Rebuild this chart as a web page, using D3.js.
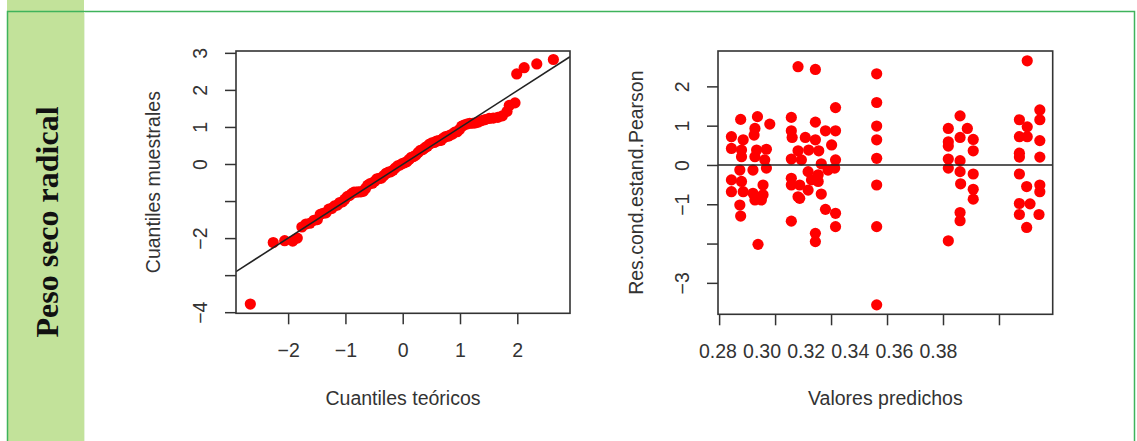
<!DOCTYPE html>
<html>
<head>
<meta charset="utf-8">
<script src="https://cdn.jsdelivr.net/npm/d3@7"></script>
<style>
	body { margin: 0; background: #fff; }
	.lbl { font-family: 'Liberation Sans', Arial, sans-serif; font-size: 19.5px; fill: #333; }
	.axis path.domain { display: none; }
	.axis line { stroke: #333; stroke-width: 1.5; }
</style>
</head>
<body>
<div id="vis"></div>
<script>
// QQ plot: theoretical vs sample quantiles
var qqTheo = [-2.66, -2.26, -2.06, -1.92, -1.84, -1.76, -1.69, -1.62, -1.55, -1.49,
	-1.44, -1.39, -1.34, -1.29, -1.24, -1.19, -1.14, -1.10, -1.05, -1.01,
	-0.97, -0.93, -0.89, -0.85, -0.81, -0.77, -0.73, -0.69, -0.65, -0.61,
	-0.57, -0.53, -0.49, -0.45, -0.41, -0.37, -0.33, -0.29, -0.25, -0.21,
	-0.17, -0.13, -0.09, -0.05, -0.01, 0.03, 0.07, 0.11, 0.15, 0.19,
	0.23, 0.27, 0.31, 0.35, 0.39, 0.43, 0.47, 0.51, 0.55, 0.59,
	0.63, 0.67, 0.71, 0.75, 0.79, 0.83, 0.87, 0.91, 0.95, 0.99,
	1.03, 1.07, 1.12, 1.17, 1.22, 1.27, 1.32, 1.38, 1.44, 1.51,
	1.58, 1.66, 1.74, 1.82, 1.86, 1.96, 1.99, 2.12, 2.34, 2.63];
var qqSample = [-3.78, -2.12, -2.07, -2.08, -2.00, -1.70, -1.62, -1.60, -1.52, -1.50,
	-1.36, -1.33, -1.32, -1.22, -1.20, -1.13, -1.11, -1.04, -1.02, -0.95,
	-0.88, -0.85, -0.80, -0.76, -0.76, -0.75, -0.75, -0.74, -0.66, -0.57,
	-0.53, -0.52, -0.47, -0.40, -0.39, -0.38, -0.31, -0.25, -0.22, -0.21,
	-0.17, -0.11, -0.05, -0.03, 0.01, 0.03, 0.06, 0.12, 0.18, 0.20,
	0.24, 0.31, 0.37, 0.39, 0.44, 0.48, 0.54, 0.57, 0.58, 0.62,
	0.63, 0.64, 0.70, 0.74, 0.75, 0.78, 0.81, 0.86, 0.87, 0.93,
	1.02, 1.05, 1.08, 1.10, 1.10, 1.11, 1.13, 1.17, 1.20, 1.23,
	1.24, 1.26, 1.30, 1.42, 1.58, 1.65, 2.43, 2.60, 2.70, 2.82];
var qqLine = { intercept: -0.01, slope: 0.995 };
var qqXTicks = [-2, -1, 0, 1, 2];
var qqYTicks = [3, 2, 1, 0, -1, -2, -3, -4];
var qqYLabels = ['3', '2', '1', '0', '', '\u22122', '', '\u22124'];

// residuals vs fitted
var fitted = [
	0.2877, 0.2937, 0.2981, 0.2928, 0.2844, 0.2886, 0.2925, 0.2844, 0.2880, 0.2934,
	0.2969, 0.2880, 0.2928, 0.2963, 0.2874, 0.2921, 0.2969, 0.2844, 0.2880, 0.2957,
	0.2844, 0.2886, 0.2921, 0.2957, 0.2928, 0.2951, 0.2874, 0.2877, 0.2939,
	0.3082, 0.3144, 0.3216, 0.3058, 0.3144, 0.3058, 0.3061, 0.3108, 0.3144, 0.3180,
	0.3216, 0.3202, 0.3082, 0.3120, 0.3156, 0.3058, 0.3094, 0.3216, 0.3165, 0.3189,
	0.3213, 0.3118, 0.3154, 0.3058, 0.3058, 0.3088, 0.3130, 0.3154, 0.3118, 0.3082,
	0.3165, 0.3180, 0.3216, 0.3216, 0.3058, 0.3144, 0.3144, 0.3088,
	0.3363, 0.3363, 0.3363, 0.3363, 0.3363, 0.3363, 0.3363, 0.3363,
	0.3661, 0.3619, 0.3687, 0.3661, 0.3708, 0.3619, 0.3619, 0.3708, 0.3619, 0.3661,
	0.3619, 0.3661, 0.3708, 0.3663, 0.3708, 0.3708, 0.3661, 0.3661, 0.3619,
	0.3901, 0.3946, 0.3946, 0.3873, 0.3901, 0.3873, 0.3901, 0.3946, 0.3873, 0.3873,
	0.3946, 0.3873, 0.3899, 0.3946, 0.3946, 0.3873, 0.3911, 0.3873, 0.3943, 0.3899];
var resid = [
	1.16, 1.23, 1.04, 0.93, 0.72, 0.64, 0.76, 0.42, 0.38, 0.38,
	0.40, 0.21, 0.21, 0.13, -0.13, -0.13, -0.08, -0.38, -0.42, -0.51,
	-0.68, -0.68, -0.72, -0.76, -0.89, -0.89, -1.02, -1.30, -2.02,
	2.50, 2.43, 1.46, 1.21, 1.09, 0.87, 0.70, 0.70, 0.64, 0.87,
	0.87, 0.51, 0.36, 0.38, 0.36, 0.15, 0.13, 0.13, 0.03, -0.13,
	-0.08, -0.17, -0.25, -0.34, -0.51, -0.51, -0.38, -0.42, -0.64, -0.81,
	-0.74, -1.13, -1.23, -1.57, -1.43, -1.74, -1.95, -0.85,
	2.32, 1.59, 0.99, 0.64, 0.17, -0.51, -1.57, -3.56,
	1.25, 0.93, 0.93, 0.70, 0.65, 0.59, 0.48, 0.36, 0.15, 0.11,
	-0.08, -0.17, -0.23, -0.48, -0.62, -0.87, -1.21, -1.42, -1.93,
	2.65, 1.40, 1.15, 1.15, 0.97, 0.72, 0.72, 0.62, 0.30, 0.20,
	0.20, -0.23, -0.55, -0.51, -0.68, -0.98, -0.99, -1.26, -1.26, -1.59];
var rvXTicks = [0.28, 0.30, 0.32, 0.34, 0.36, 0.38];
var rvXLabels = ['0.28', '0.30', '0.32', '0.34', '0.36', '0.38'];
var rvYTicks = [2, 1, 0, -1, -2, -3];
var rvYLabels = ['2', '1', '0', '\u22121', '', '\u22123'];

var width = 1137,
	height = 441;

var svg = d3.select('#vis')
	.append('svg')
	.attr('width', width)
	.attr('height', height);

// frame + green side band
svg.append('rect')
	.attr('x', 7).attr('y', 0)
	.attr('width', 77).attr('height', height)
	.attr('fill', '#c2e29a');
svg.append('path')
	.attr('d', 'M7.5,' + height + 'V11.5H1134.5V' + height)
	.attr('fill', 'none')
	.attr('stroke', '#3fb35b')
	.attr('stroke-width', 1.5);
svg.append('line')
	.attr('x1', 84.5).attr('x2', 84.5)
	.attr('y1', 12).attr('y2', height)
	.attr('stroke', '#e6f2dc');

svg.append('text')
	.attr('transform', 'translate(58,222) rotate(-90)')
	.attr('text-anchor', 'middle')
	.attr('font-family', "'Liberation Serif', 'Times New Roman', serif")
	.attr('font-weight', 'bold')
	.attr('font-size', 32)
	.attr('fill', '#111')
	.text('Peso seco radical');

var panel = function(opts) {
	var x = d3.scaleLinear().domain(opts.xDomain).range([opts.left, opts.right]);
	var y = d3.scaleLinear().domain(opts.yDomain).range([opts.bottom, opts.top]);

	var gx = svg.append('g')
		.attr('class', 'axis')
		.attr('transform', 'translate(0,' + opts.bottom + ')')
		.call(d3.axisBottom(x).tickValues(opts.xTicks).tickSize(11).tickFormat(opts.xFormat || ''));
	gx.selectAll('text')
		.attr('class', 'lbl')
		.attr('y', 44)
		.attr('dy', 0)
		.attr('fill', null);

	var gy = svg.append('g')
		.attr('class', 'axis')
		.attr('transform', 'translate(' + opts.left + ',0)')
		.call(d3.axisLeft(y).tickValues(opts.yTicks).tickSize(11)
			.tickFormat(function(d, i) { return opts.yLabels[i]; }));
	gy.selectAll('text')
		.attr('class', 'lbl')
		.attr('fill', null)
		.attr('transform', 'rotate(-90)')
		.attr('x', 0)
		.attr('y', -29)
		.attr('dy', 0)
		.attr('text-anchor', 'middle');

	var clipId = 'clip' + opts.left;
	svg.append('clipPath').attr('id', clipId)
		.append('rect')
		.attr('x', opts.left).attr('y', opts.top)
		.attr('width', opts.right - opts.left).attr('height', opts.bottom - opts.top);

	var plot = svg.append('g').attr('clip-path', 'url(#' + clipId + ')');

	plot.selectAll('circle')
		.data(opts.xs)
		.enter().append('circle')
		.attr('cx', function(d) { return x(d); })
		.attr('cy', function(d, i) { return y(opts.ys[i]); })
		.attr('r', 5.6)
		.attr('fill', '#ff0000');

	if (opts.line) {
		var x0 = opts.xDomain[0], x1 = opts.xDomain[1];
		plot.append('line')
			.attr('x1', x(x0)).attr('y1', y(opts.line.intercept + opts.line.slope * x0))
			.attr('x2', x(x1)).attr('y2', y(opts.line.intercept + opts.line.slope * x1))
			.attr('stroke', '#222')
			.attr('stroke-width', 1.6);
	}

	svg.append('rect')
		.attr('x', opts.left).attr('y', opts.top)
		.attr('width', opts.right - opts.left).attr('height', opts.bottom - opts.top)
		.attr('fill', 'none')
		.attr('stroke', '#333')
		.attr('stroke-width', 1.6);

	svg.append('text')
		.attr('class', 'lbl')
		.attr('x', (opts.left + opts.right) / 2)
		.attr('y', 405)
		.attr('text-anchor', 'middle')
		.text(opts.xTitle);

	svg.append('text')
		.attr('class', 'lbl')
		.attr('transform', 'translate(' + opts.yTitleX + ',' + ((opts.top + opts.bottom) / 2) + ') rotate(-90)')
		.attr('text-anchor', 'middle')
		.text(opts.yTitle);

	return { x: x, y: y };
};

panel({
	left: 236, right: 570, top: 51, bottom: 313.3,
	xDomain: [-2.91, 2.92], yDomain: [-4.03, 3.05],
	xTicks: qqXTicks, yTicks: qqYTicks, yLabels: qqYLabels,
	xFormat: function(d) { return d < 0 ? '\u2212' + Math.abs(d) : '' + d; },
	xs: qqTheo, ys: qqSample, line: qqLine,
	xTitle: 'Cuantiles te\u00f3ricos', yTitle: 'Cuantiles muestrales', yTitleX: 160
});

var rv = panel({
	left: 718, right: 1052.7, top: 51, bottom: 314.3,
	xDomain: [0.2796, 0.3992], yDomain: [-3.80, 2.90],
	xTicks: rvXTicks, yTicks: rvYTicks, yLabels: rvYLabels,
	xs: fitted, ys: resid, line: { intercept: 0, slope: 0 },
	xTitle: 'Valores predichos', yTitle: 'Res.cond.estand.Pearson', yTitleX: 643
});

// x labels of the right panel sit closer together than its ticks
var labelX = d3.scaleLinear().domain([0.28, 0.38]).range([718, 938.5]);
svg.append('g')
	.selectAll('text')
	.data(rvXTicks)
	.enter().append('text')
	.attr('class', 'lbl')
	.attr('x', function(d) { return labelX(d); })
	.attr('y', 314.3 + 44)
	.attr('text-anchor', 'middle')
	.text(function(d, i) { return rvXLabels[i]; });
</script>
</body>
</html>
